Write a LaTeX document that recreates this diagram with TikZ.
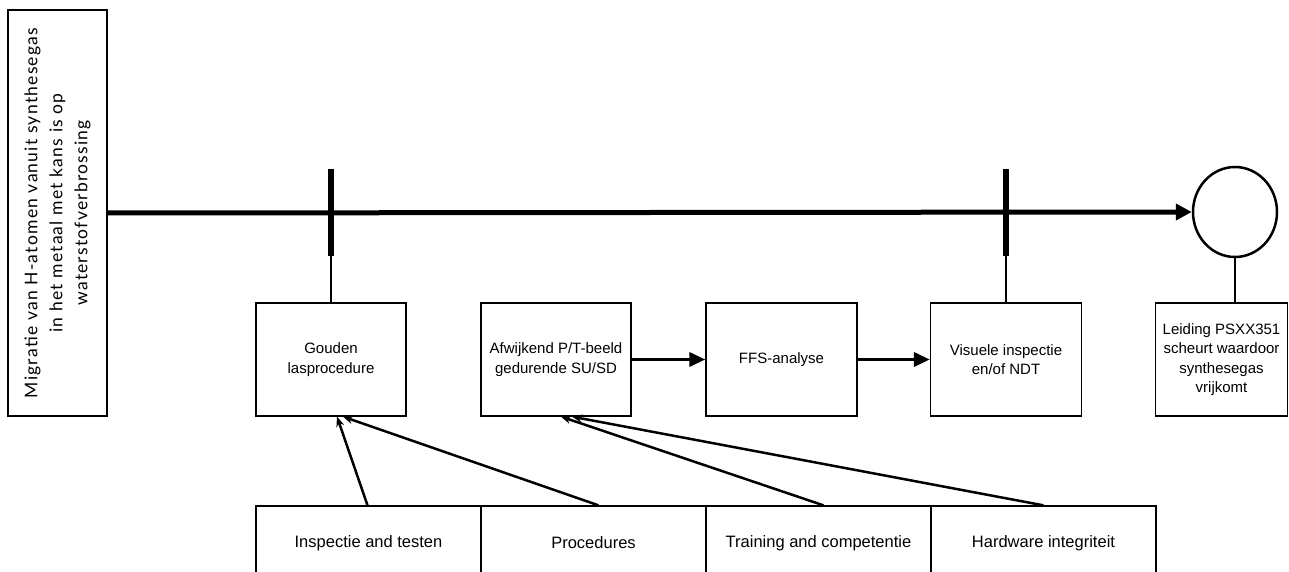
\documentclass[tikz,border=0pt]{standalone}
\usepackage{fontspec}
\setmainfont{Liberation Sans}
\newfontfamily\migfont[LetterSpace=7]{Lato}
\usetikzlibrary{arrows.meta,shapes.geometric}

\begin{document}
\begin{tikzpicture}[x=1pt, y=-1pt,
    box/.style={draw, line width=1.3pt, align=center, inner sep=0pt,
      minimum width=150pt, minimum height=113pt,
      font=\fontsize{15}{19.3}\selectfont},
    factor/.style={draw, line width=1.3pt, inner sep=0pt,
      minimum width=225pt, minimum height=74pt,
      font=\fontsize{16.5}{19}\selectfont},
    barrier/.style={line width=5.5pt},
    link/.style={line width=1.3pt},
    thick arrow/.style={line width=3.5pt, -{Triangle[length=16pt,width=14pt]}},
    thin arrow/.style={line width=2.5pt, -{Stealth[length=10pt,width=8pt]}}]
        \clip (0,0) rectangle (1289,572);
        % top event and outcome
        \node[draw, line width=1.3pt, rotate=90, align=center, inner sep=0pt,
          minimum width=406pt, minimum height=99pt,
          font=\migfont\fontsize{17.5}{25}\selectfont] (mig) at (57.5,213)
          {Migratie van H-atomen vanuit synthesegas\\in het metaal met kans is op\\waterstofverbrossing};
        \node[ellipse, draw, line width=2.5pt, minimum width=84pt, minimum height=90pt] (circ) at (1235,212) {};
        \draw[line width=5pt, -{Triangle[length=16pt,width=16pt]}] (mig.south) -- (circ.west);
        % barriers
        \node[box] (gouden) at (331,359.5) {Gouden\\lasprocedure};
        \node[box] (afw) at (556,359.5) {Afwijkend P/T-beeld\\gedurende SU/SD};
        \node[box, minimum width=151pt] (ffs) at (781.5,359.5) {FFS-analyse};
        \node[box, minimum width=151pt] (vis) at (1006,359.5) {Visuele inspectie\\en/of NDT};
        \node[box, minimum width=132pt] (leid) at (1221.5,359.5) {Leiding PSXX351\\scheurt waardoor\\synthesegas\\vrijkomt};
        \coordinate (b1) at ([yshift=46pt]gouden.north);
        \coordinate (b2) at ([yshift=46pt]vis.north);
        \draw[barrier] (b1) -- ++(0,-87);
        \draw[barrier] (b2) -- ++(0,-87);
        \draw[link] (b1) -- (gouden.north);
        \draw[link] (b2) -- (vis.north);
        \draw[link] (circ.south) -- (circ.south |- leid.north);
        \draw[thick arrow] (afw) -- (ffs);
        \draw[thick arrow] (ffs) -- (vis);
        % factors
        \node[factor] (insp) at (368.5,543) {Inspectie and testen};
        \node[factor] (proc) at (593.5,543) {Procedures};
        \node[factor] (train) at (818.5,543) {Training and competentie};
        \node[factor] (hard) at (1043.5,543) {Hardware integriteit};
        \draw[thin arrow] ([xshift=-1pt]insp.north) -- ([xshift=6pt]gouden.south);
        \draw[thin arrow] ([xshift=5pt]proc.north) -- ([xshift=12pt]gouden.south);
        \draw[thin arrow] ([xshift=5pt]train.north) -- ([xshift=5pt]afw.south);
        \draw[thin arrow] (hard.north) -- ([xshift=16pt]afw.south);
\end{tikzpicture}
\end{document}
